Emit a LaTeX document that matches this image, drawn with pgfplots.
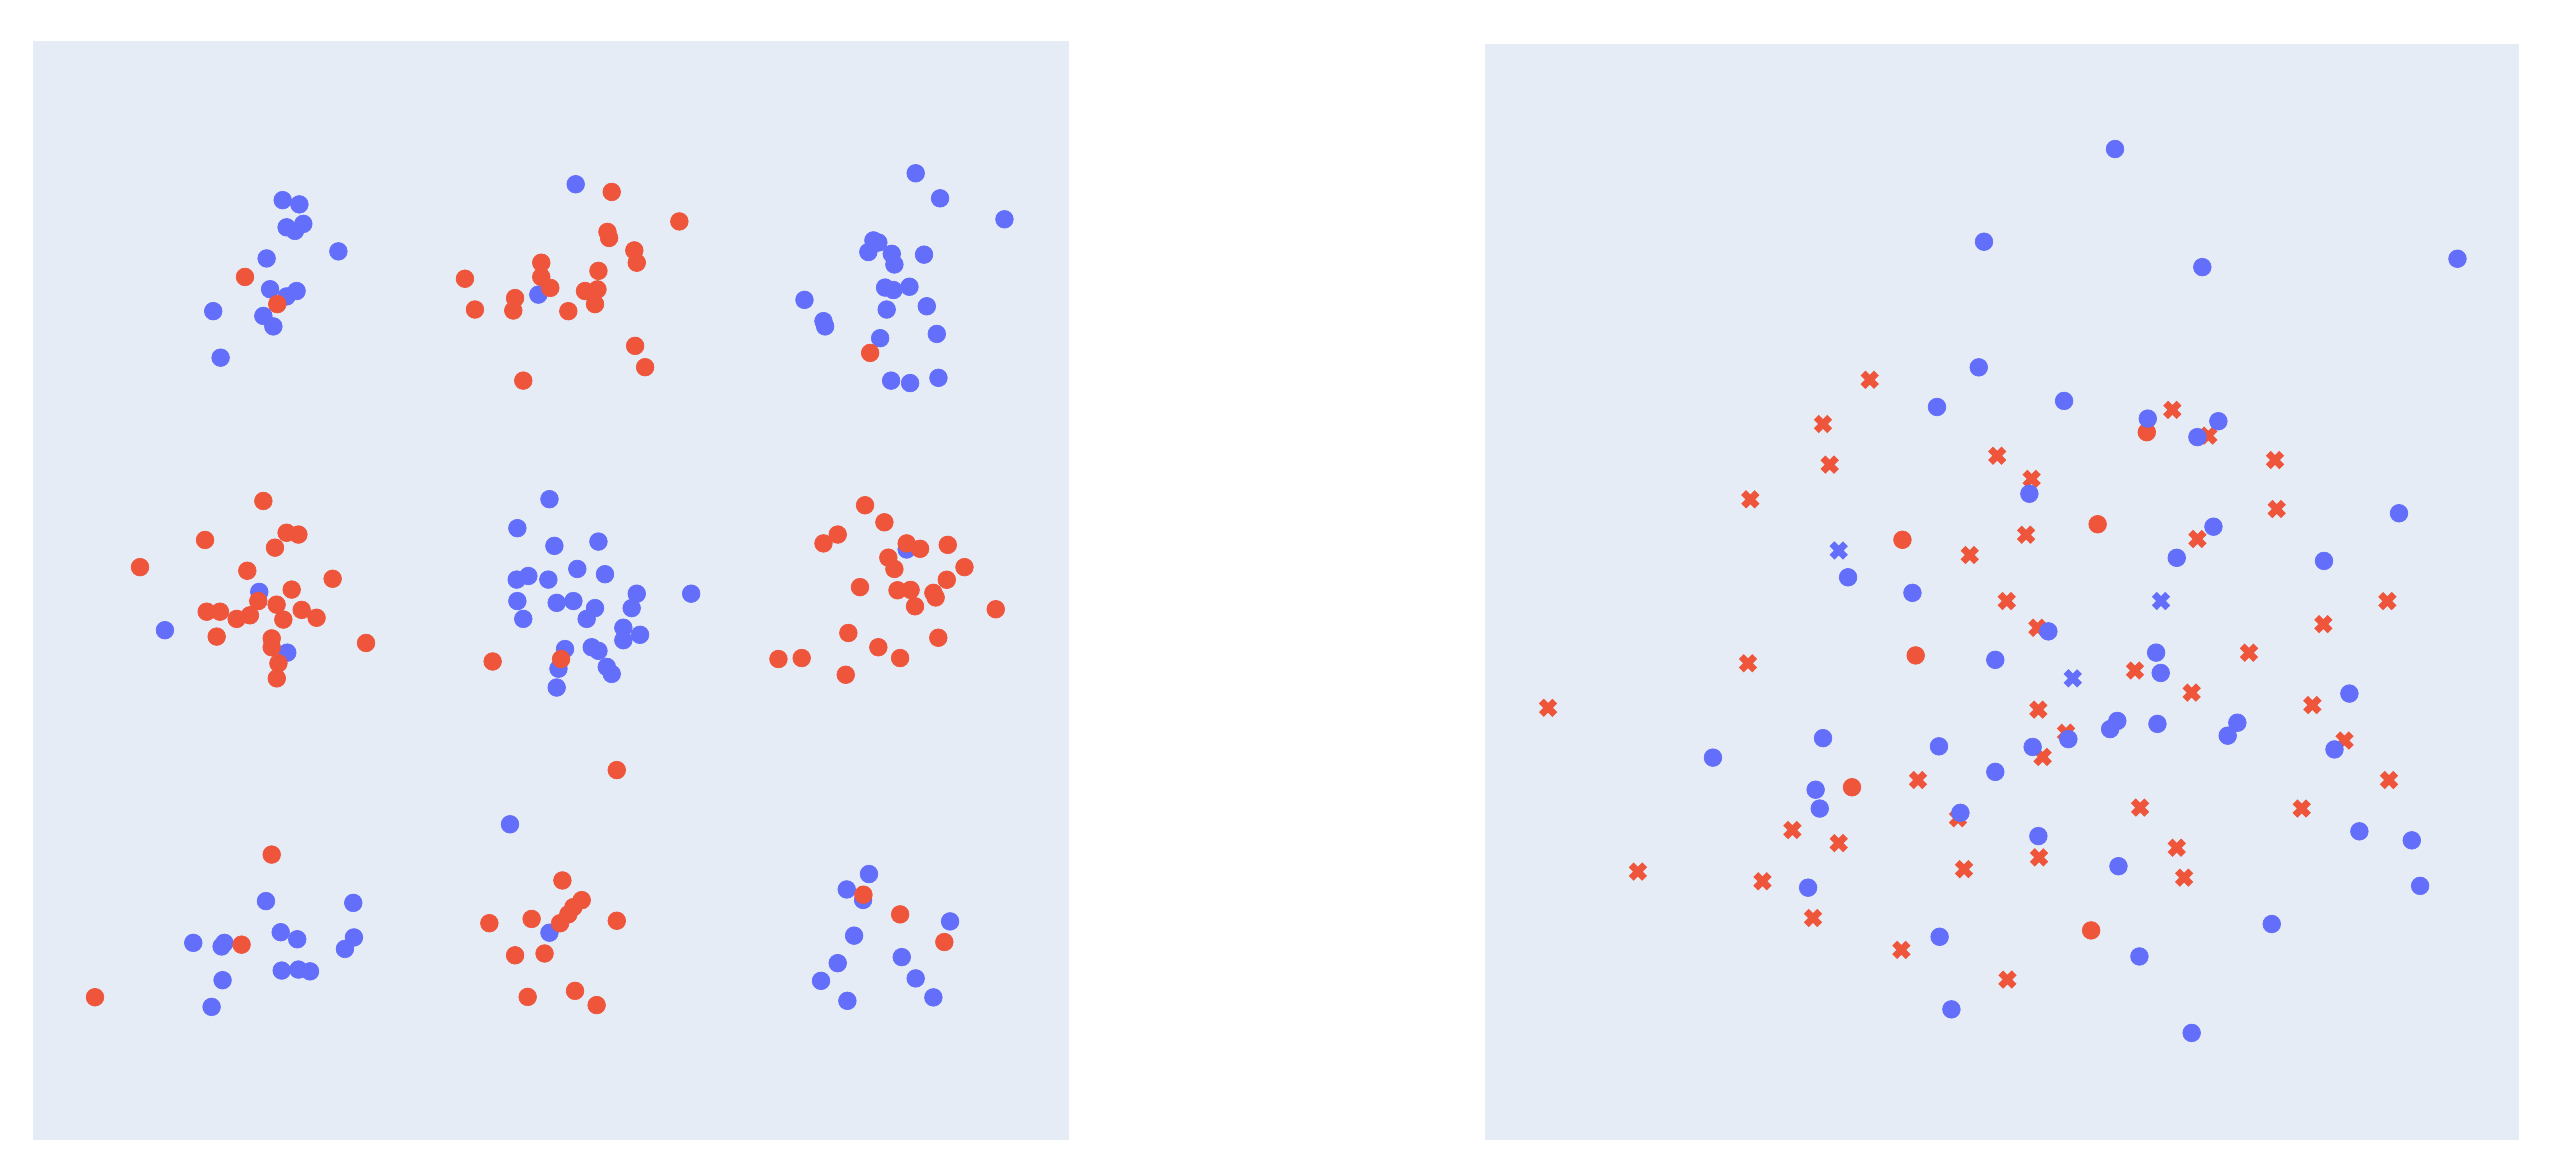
\documentclass[border=0pt]{standalone}
\usepackage{pgfplots}
\pgfplotsset{compat=1.18}
\definecolor{pblue}{HTML}{636EFA}
\definecolor{pred}{HTML}{EF553B}
\definecolor{pbg}{HTML}{E5ECF6}
\begin{document}
\begin{tikzpicture}
\path (0,0) rectangle (784pt,358pt);
\pgfplotsset{panel/.style={scale only axis, y dir=reverse, anchor=south west,
  axis background/.style={fill=pbg}, axis line style={draw=none}, ticks=none},
  dot/.style={only marks, mark=*, mark size=2.7pt, color=#1, line width=0.2pt},
  cross/.style={only marks, mark=x, mark size=2.9pt, color=#1, line width=2.1pt}}
\begin{axis}[panel, at={(10pt,10pt)}, width=316.5pt, height=335.5pt,
  xmin=20, xmax=653, ymin=25, ymax=696]
\addplot[dot=pblue] table {
172.6 122.2
182.8 124.8
175.0 138.8
180.1 141.0
185.2 136.7
162.8 157.8
206.6 153.5
164.9 176.6
181.1 177.7
175.0 181.0
160.8 192.9
166.9 199.3
130.2 190.0
134.7 218.4
328.7 179.9
351.5 112.5
559.1 105.8
574.0 121.1
613.3 133.9
533.3 146.8
530.2 153.9
536.3 148.1
544.5 155.0
546.1 161.5
564.2 155.5
540.4 175.6
545.5 177.1
555.3 175.1
491.2 183.1
502.8 196.1
503.8 199.3
541.4 189.0
565.9 187.0
537.4 206.5
572.0 203.9
544.1 232.4
555.7 233.9
573.0 230.7
158.3 361.4
100.7 384.8
175.4 398.5
335.5 304.8
315.9 322.5
338.5 333.3
365.4 330.7
315.5 353.9
322.6 351.7
334.8 353.9
352.5 347.4
369.4 350.6
388.8 362.5
422.0 362.5
339.9 368.1
350.1 367.0
363.3 371.3
358.2 377.9
385.7 371.3
380.6 383.3
390.8 387.6
380.6 390.9
315.9 367.0
319.5 377.9
345.0 396.3
341.0 408.3
361.3 395.2
365.4 397.4
370.5 407.2
373.5 411.5
339.9 419.8
553.6 335.5
162.4 550.2
215.7 551.3
171.4 569.2
181.5 573.5
118.0 575.7
137.0 575.7
135.3 577.9
216.1 572.4
210.6 579.4
172.0 592.6
182.2 592.0
189.3 593.1
135.9 598.5
129.2 614.8
311.4 503.3
335.5 569.5
530.6 533.7
517.0 543.1
527.0 549.5
580.1 562.6
521.5 571.3
511.5 588.1
550.6 584.4
501.3 598.9
559.1 597.4
517.4 611.1
569.9 609.0
};
\addplot[dot=pred] table {
149.6 169.1
169.3 185.7
283.9 170.2
290.0 189.0
314.5 182.0
313.4 189.6
330.5 160.4
330.5 169.1
336.0 175.8
319.5 232.4
373.5 117.2
414.8 135.2
370.9 141.6
371.9 145.3
387.3 152.9
388.8 160.4
365.4 165.4
357.2 177.7
364.8 176.7
363.3 185.7
347.0 190.0
387.8 211.2
393.9 224.2
531.3 215.5
160.8 305.9
125.2 329.7
175.0 325.3
182.2 326.4
167.9 334.4
85.5 346.3
151.0 348.5
203.1 353.4
178.1 360.0
157.7 367.0
126.2 373.5
134.3 373.5
132.3 388.7
144.5 377.9
152.6 375.7
168.9 369.2
173.0 378.3
184.2 372.4
193.3 377.2
223.5 392.6
165.9 389.8
165.9 395.2
170.0 405.0
169.0 414.2
300.8 403.9
342.6 402.4
528.2 308.5
540.0 318.9
502.8 331.8
511.5 326.4
553.6 331.8
561.8 335.1
578.7 332.7
542.4 340.5
546.1 347.4
588.9 346.3
578.1 354.0
525.1 358.5
548.0 360.4
556.0 360.2
569.9 362.0
558.7 370.2
571.3 364.8
608.0 372.0
518.0 386.5
572.9 389.4
536.3 395.2
549.6 401.8
475.3 402.4
489.5 401.8
516.4 412.0
376.6 470.2
165.9 521.8
147.5 576.8
58.0 608.9
343.4 537.6
355.2 549.6
350.1 553.9
347.0 558.3
342.0 563.7
298.8 563.7
324.6 561.1
314.5 583.3
332.5 582.2
322.2 608.7
376.6 562.2
351.1 605.0
364.3 613.7
527.2 546.3
549.6 558.3
576.6 575.2
};
\end{axis}
\begin{axis}[panel, at={(453.5pt,10pt)}, width=315.5pt, height=334.5pt,
  xmin=907, xmax=1538, ymin=27, ymax=696]
\addplot[cross=pred] table {
1141.6 231.9
1113.1 258.9
1117.2 283.7
1219.5 278.3
1068.7 304.9
1202.7 338.9
1326.4 250.3
1348.4 266.0
1389.1 280.9
1390.1 310.8
1240.5 292.4
1237.1 326.5
1341.7 329.1
1225.3 367.0
1067.3 405.0
945.2 432.2
1171.1 476.3
1195.5 499.6
1094.4 506.8
1122.7 514.8
1199.2 530.7
1000.1 532.2
1076.1 538.1
1107.0 560.5
1161.0 580.0
1225.7 598.1
1457.7 367.0
1418.6 381.1
1244.0 383.3
1373.2 398.5
1303.6 409.4
1338.2 422.9
1411.9 430.5
1244.6 433.3
1261.5 447.4
1247.2 462.2
1431.5 452.2
1458.7 476.3
1306.7 493.1
1405.4 493.7
1245.0 523.5
1329.1 517.6
1333.6 535.9
};
\addplot[dot=pred] table {
1161.6 329.6
1310.8 263.9
1280.8 320.1
1169.7 400.2
1130.8 480.7
1276.8 568.1
};
\addplot[dot=pblue] table {
1211.4 147.6
1208.2 224.3
1182.7 248.5
1128.4 352.5
1167.7 362.0
1291.4 91.0
1344.7 163.1
1500.5 158.0
1260.3 244.8
1311.4 255.6
1354.5 257.2
1341.7 266.9
1464.8 313.4
1239.1 301.5
1351.5 321.6
1329.1 340.6
1419.0 342.5
1218.3 402.9
1113.1 450.7
1045.9 462.6
1183.9 455.7
1218.3 471.3
1108.6 482.2
1111.1 493.7
1197.0 496.3
1104.0 542.0
1184.3 572.0
1191.5 616.3
1250.7 385.5
1316.5 398.5
1319.3 410.9
1434.5 423.5
1292.8 440.2
1288.4 445.2
1317.3 442.0
1366.1 441.3
1360.2 449.2
1262.9 451.3
1241.1 456.1
1425.4 457.6
1244.6 510.5
1440.6 507.6
1472.6 513.1
1293.5 528.9
1477.7 540.9
1387.1 564.2
1306.3 584.0
1338.2 630.7
};
\addplot[cross=pblue] table {
1122.7 336.1
1319.5 367.0
1265.6 414.2
};
\end{axis}
\end{tikzpicture}
\end{document}
